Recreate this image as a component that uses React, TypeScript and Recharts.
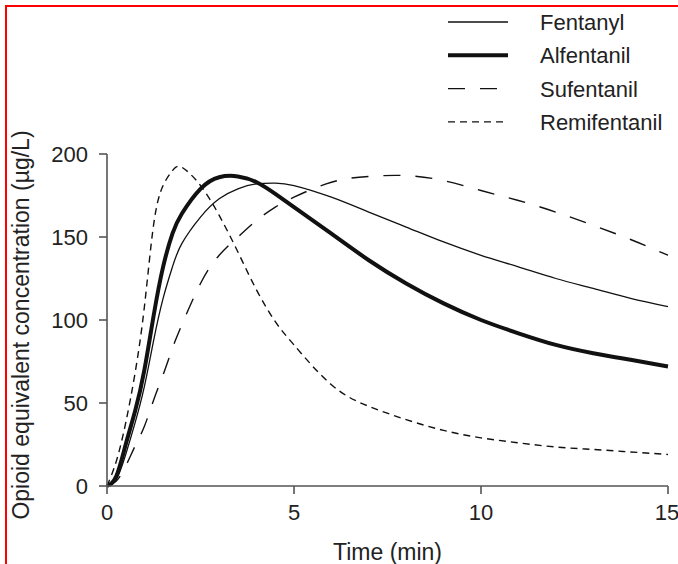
import { CartesianGrid, Legend, Line, LineChart, XAxis, YAxis } from "recharts";

const time = [0, 0.25, 0.5, 0.75, 1, 1.25, 1.5, 1.75, 2, 2.5, 3, 3.5, 4, 4.5, 5, 6, 7, 8, 9, 10, 11, 12, 13, 14, 15];
const fentanyl = [0, 4, 19, 38, 60, 88, 113, 132, 146, 162, 173, 179, 182, 182.5, 181, 174, 165, 156, 147, 139, 132, 125, 119, 113, 108];
const alfentanil = [0, 6, 25, 45, 70, 103, 132, 152, 164, 179, 186, 186.5, 183, 176, 168, 152, 136, 122, 110, 100, 92, 85, 80, 76, 72];
const sufentanil = [0, 3, 12, 24, 36, 52, 67, 83, 97, 122, 139, 150, 160, 168, 174, 183, 186.5, 187, 184, 178, 172, 165, 157, 148.5, 139];
const remifentanil = [0, 15, 38, 68, 108, 158, 181, 190, 192, 181, 163, 141, 118, 99, 85, 61, 48, 40, 33.5, 29, 26, 23.5, 22, 20.5, 19];

const xTicks = [0, 5, 10, 15];
const yTicks = [0, 50, 100, 150, 200];

const seriesNames = ["Fentanyl", "Alfentanil", "Sufentanil", "Remifentanil"];

const FONT = '"Liberation Sans", Arial, Helvetica, sans-serif';
const INK = "#222";
const AXIS = "#555";

// one row per time point, built from the arrays above
const chartData = time.map((t, i) => ({
  t,
  Fentanyl: fentanyl[i],
  Alfentanil: alfentanil[i],
  Sufentanil: sufentanil[i],
  Remifentanil: remifentanil[i],
}));

const lineStyles: Record<string, { width: number; dash?: string }> = {
  Fentanyl: { width: 1.3 },
  Alfentanil: { width: 4 },
  Sufentanil: { width: 1.4, dash: "17 15" },
  Remifentanil: { width: 1.4, dash: "7 5" },
};

function LegendBox() {
  return (
    <svg width={230} height={140} style={{ display: "block" }}>
      {seriesNames.map((name, i) => {
        const y = 17 + i * 33.3;
        const s = lineStyles[name];
        return (
          <g key={name}>
            <line x1={3} x2={63} y1={y} y2={y} stroke="#111" strokeWidth={s.width} strokeDasharray={s.dash} />
            <text x={95} y={y + 8} fontSize={22} fontFamily={FONT} fill={INK}>
              {name}
            </text>
          </g>
        );
      })}
    </svg>
  );
}

export default function App() {
  return (
    <div style={{ position: "absolute", left: 0, top: 0, width: 678, height: 564, background: "#fff", overflow: "hidden" }}>
      <div
        style={{
          position: "absolute",
          left: 5,
          top: 5,
          width: 680,
          height: 570,
          borderTop: "2px solid #f00",
          borderLeft: "2px solid #f00",
          boxSizing: "border-box",
        }}
      />
      <LineChart
        width={678}
        height={564}
        data={chartData}
        margin={{ top: 154, right: 10, bottom: 48, left: 0 }}
        style={{ fontFamily: FONT }}
      >
        <CartesianGrid stroke="none" fill="none" />
        <XAxis
          dataKey="t"
          type="number"
          domain={[0, 15]}
          ticks={xTicks}
          height={30}
          stroke={AXIS}
          strokeWidth={1.6}
          tickSize={8}
          tickMargin={10}
          tick={{ fill: INK, fontSize: 22, fontFamily: FONT }}
          label={({ viewBox }: any) => (
            <text
              x={viewBox.x + viewBox.width / 2}
              y={560}
              textAnchor="middle"
              fontSize={23}
              fontFamily={FONT}
              fill={INK}
            >
              Time (min)
            </text>
          )}
        />
        <YAxis
          type="number"
          domain={[0, 200]}
          ticks={yTicks}
          width={107}
          stroke={AXIS}
          strokeWidth={1.6}
          tickSize={8}
          tickMargin={11}
          tick={{ fill: INK, fontSize: 22, fontFamily: FONT }}
          label={({ viewBox }: any) => {
            const cx = 29;
            const cy = viewBox.y + viewBox.height / 2 + 5;
            return (
              <text
                x={cx}
                y={cy}
                transform={`rotate(-90, ${cx}, ${cy})`}
                textAnchor="middle"
                fontSize={23}
                fontFamily={FONT}
                fill={INK}
              >
                Opioid equivalent concentration (µg/L)
              </text>
            );
          }}
        />
        <Legend
          layout="vertical"
          align="center"
          verticalAlign="middle"
          content={() => <LegendBox />}
          wrapperStyle={{ top: 5, left: 445, width: 230, height: 140 }}
        />
        {seriesNames.map((name) => (
          <Line
            key={name}
            dataKey={name}
            type="natural"
            stroke="#111"
            strokeWidth={lineStyles[name].width}
            strokeDasharray={lineStyles[name].dash}
            dot={false}
            activeDot={false}
            isAnimationActive={false}
          />
        ))}
      </LineChart>
    </div>
  );
}
